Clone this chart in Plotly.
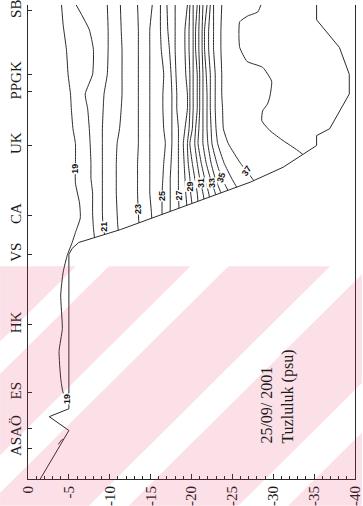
import numpy as np
import plotly.graph_objects as go

# ---- stations along the transect (km from the southern end) ----
station_km = [3.1, 5.1, 8.7, 15.6, 22.7, 26.6, 33.7, 39.2, 40.9, 47.3]
station_label_km = [4.15, 8.7, 15.6, 22.7, 26.6, 33.7, 40.05, 47.3]
station_labels = ["ASAÖ", "ES", "HK", "VS", "CA", "UK", "PPGK", "SB"]

depth_ticks = [0, -5, -10, -15, -20, -25, -30, -35, -40]

# ---- bottom profile (depth in m at each km) ----
bottom_km = [49.0, 47.9, 46.4, 43.6, 40.9, 38.9, 35.4, 34.7, 33.7, 31.5, 30.0,
             25.2, 23.9, 23.3, 22.7, 7.1, 6.3, 4.9, 0.5, 0.0, -1.0]
bottom_depth = [-35.3, -35.3, -35.3, -38.1, -39.3, -39.3, -36.9, -35.3, -35.3, -31.2, -27.2,
                -11.3, -6.2, -5.4, -5.0, -5.0, -2.6, -5.0, -1.8, -1.5, -1.5]

# ---- salinity isolines (psu): depth of each isohaline at the section columns ----
col_km = [47.9, 45.4, 43.4, 40.9, 38.9, 37.4, 35.4, 33.9, 31.9, 30.4, 28.9, 26.9, 25.4, 23.9]
iso20 = [-5.9, -7.5, -8.0, -7.9, -7.0, -7.3, -7.5, -7.6, -7.7, -7.7, -7.9, -7.9, -8.0, -8.2]
iso21 = [-9.7, -9.8, -9.8, -9.7, -9.3, -9.2, -9.1, -9.1, -9.1, -9.1, -9.1, -9.1, -9.2, -9.6]
iso22 = [-11.3, -11.4, -11.5, -11.5, -11.5, -11.4, -11.2, -10.9, -10.8, -10.8, -10.8, -10.9, -11.0, -11.4]
iso23 = [-13.4, -13.5, -13.5, -13.5, -13.5, -13.5, -13.5, -13.5, -13.4, -13.4, -13.4, -13.5, -13.6, -13.8]
iso24 = [-15.2, -14.9, -14.9, -14.9, -14.9, -14.9, -14.9, -14.9, -14.9, -14.9, -14.9, -15.1, -15.2, -15.3]
iso25 = [-16.2, -16.2, -16.3, -16.6, -16.5, -16.5, -16.6, -16.8, -16.6, -16.5, -16.4, -16.4, -16.5, -16.8]
iso26 = [-17.0, -17.1, -17.3, -17.5, -17.6, -17.6, -17.6, -17.6, -17.5, -17.4, -17.4, -17.4, -17.5, -17.6]
iso27 = [-18.0, -18.0, -18.0, -18.1, -18.2, -18.2, -18.4, -18.4, -18.4, -18.4, -18.4, -18.5, -18.6, -18.8]
iso28 = [-19.5, -19.2, -19.2, -19.3, -19.5, -19.5, -19.2, -19.0, -19.1, -19.2, -19.3, -19.5, -19.6, -19.8]
iso29 = [-19.8, -19.7, -19.7, -19.8, -19.8, -19.8, -19.7, -19.5, -19.6, -19.8, -19.9, -20.2, -20.4, -20.7]
iso30 = [-20.2, -20.2, -20.2, -20.2, -20.2, -20.2, -20.1, -19.8, -20.1, -20.4, -20.7, -20.9, -21.2, -21.5]
iso31 = [-20.7, -20.5, -20.5, -20.7, -20.7, -20.7, -20.5, -20.4, -20.7, -21.0, -21.4, -21.8, -22.1, -22.5]
iso32 = [-21.0, -20.9, -20.9, -21.0, -21.0, -21.0, -20.9, -20.8, -21.2, -21.6, -22.1, -22.5, -23.0, -23.5]
iso33 = [-21.4, -21.3, -21.3, -21.4, -21.4, -21.4, -21.4, -21.4, -21.8, -22.3, -22.9, -23.4, -24.0, -24.5]
iso34 = [-21.9, -21.6, -21.6, -21.8, -21.9, -21.9, -21.9, -22.0, -22.4, -22.9, -23.6, -24.2, -24.8, -25.4]
iso35 = [-22.3, -22.1, -22.1, -22.3, -22.3, -22.3, -22.4, -22.5, -23.1, -23.7, -24.6, -25.3, -25.9, -26.5]
iso36 = [-22.7, -22.7, -22.7, -22.9, -22.9, -22.9, -23.0, -23.2, -24.0, -24.9, -25.9, -26.6, -27.4, -28.1]
iso37 = [-23.7, -23.6, -23.6, -23.7, -23.7, -23.8, -23.9, -24.5, -26.0, -27.4, -28.6, -29.6, -30.5, -31.4]

# the 19 psu isohaline runs the whole length of the shallow shelf
iso19_km = [47.9, 45.9, 43.4, 40.9, 38.9, 37.4, 35.4, 33.9, 31.9, 29.9, 27.9, 26.4,
            24.9, 23.9, 22.6, 20.9, 18.6, 15.2, 12.9, 10.2, 8.7, 7.7]
iso19 = [-4.1, -4.3, -4.7, -4.9, -5.2, -5.3, -5.5, -5.8, -5.8, -5.8, -6.3, -6.4,
         -5.8, -5.4, -4.8, -4.3, -4.0, -4.2, -3.8, -4.0, -4.3, -5.1]
iso19b_km = [3.5, 4.0, 3.9]
iso19b = [-3.7, -4.2, -4.6]

# the 38 psu isohaline wrapping the deep basin water
iso38_km = [48.4, 47.2, 46.8, 46.2, 44.9, 43.6, 42.2, 41.6, 40.2, 38.7, 37.9, 37.2,
            36.2, 35.2, 34.2, 33.2, 32.2]
iso38 = [-28.7, -28.1, -26.9, -25.9, -25.8, -25.9, -26.8, -28.7, -29.8, -29.6, -29.3, -28.7,
         -28.6, -29.6, -31.2, -33.0, -34.5]

levels = [20, 21, 22, 23, 24, 25, 26, 27, 28, 29, 30, 31, 32, 33, 34, 35, 36, 37]
iso_table = [iso20, iso21, iso22, iso23, iso24, iso25, iso26, iso27, iso28,
             iso29, iso30, iso31, iso32, iso33, iso34, iso35, iso36, iso37]

# where each labelled isohaline carries its value (km along the section, text angle)
label_spots = [(19, 31.4, -90), (19, 8.1, -90), (21, 25.5, -90), (23, 27.3, -90),
               (25, 28.6, -90), (27, 28.6, -90), (29, 29.6, -90), (31, 29.9, -90),
               (33, 29.9, -90), (35, 30.5, -72), (37, 31.1, -55)]

LINE = "#2b2b2b"
SERIF = "Liberation Serif"
PINK = "rgba(225,45,95,0.15)"

fig = go.Figure()

lines = {19: (iso19, iso19_km)}
for lvl, dep in zip(levels, iso_table):
    lines[lvl] = (dep, col_km)
lines[38] = (iso38, iso38_km)

for lvl, (dep, km) in lines.items():
    fig.add_trace(go.Scatter(x=dep, y=km, mode="lines", hoverinfo="skip", showlegend=False,
                             line=dict(color=LINE, width=1, shape="spline", smoothing=0.5)))
fig.add_trace(go.Scatter(x=iso19b, y=iso19b_km, mode="lines", hoverinfo="skip", showlegend=False,
                         line=dict(color=LINE, width=1, shape="spline", smoothing=0.5)))

# sea floor: blank everything below it
poly_x = bottom_depth + [-45, -45]
poly_y = bottom_km + [-1.0, 49.0]
fig.add_trace(go.Scatter(x=poly_x, y=poly_y, mode="lines", fill="toself", fillcolor="white",
                         hoverinfo="skip", showlegend=False,
                         line=dict(color=LINE, width=1)))

# isohaline value labels sitting on their lines
annotations = []
for lvl, km, ang in label_spots:
    dep, kms = lines[lvl]
    order = np.argsort(kms)
    d = float(np.interp(km, np.array(kms)[order], np.array(dep)[order]))
    annotations.append(dict(x=d, y=km, xref="x", yref="y", text=str(lvl), showarrow=False,
                            textangle=ang, bgcolor="white", borderpad=0,
                            font=dict(family="Liberation Sans", size=9, color="#111",
                                      weight=700)))

annotations.append(dict(x=-30.55, y=8.3, xref="x", yref="y", showarrow=False,
                        text="25/09/ 2001<br>Tuzluluk (psu)", textangle=-90, align="left",
                        font=dict(family=SERIF, size=16, color="#1a1a1a")))

# pale diagonal banding over the lower part of the page
W, H = 363, 506
L_M, R_M, T_M, B_M = 28, 7, 0, 27
PW, PH = W - L_M - R_M, H - T_M - B_M


def clip(poly, a, b, c):
    out = []
    n = len(poly)
    for i in range(n):
        p, q = poly[i], poly[(i + 1) % n]
        fp = a * p[0] + b * p[1] - c
        fq = a * q[0] + b * q[1] - c
        if fp <= 0:
            out.append(p)
        if fp * fq < 0:
            t = fp / (fp - fq)
            out.append((p[0] + t * (q[0] - p[0]), p[1] + t * (q[1] - p[1])))
    return out


def to_paper(px, py):
    return (px - L_M) / PW, (H - B_M - py) / PH


shapes = []
band_top = 264
pink_bands = [(264, 340), (373, 455), (493, 595), (635, 745), (795, 870)]
for s0, s1 in pink_bands:
    rect = [(0, band_top), (W, band_top), (W, H), (0, H)]
    poly = clip(rect, -1, -1, -s0)
    poly = clip(poly, 1, 1, s1)
    if len(poly) < 3:
        continue
    pts = [to_paper(px, py) for px, py in poly]
    path = "M " + " L ".join(f"{x:.4f},{y:.4f}" for x, y in pts) + " Z"
    shapes.append(dict(type="path", path=path, xref="paper", yref="paper",
                       fillcolor=PINK, line=dict(width=0), layer="above"))

fig.update_layout(
    width=W, height=H, autosize=False,
    margin=dict(l=L_M, r=R_M, t=T_M, b=B_M),
    paper_bgcolor="white", plot_bgcolor="white",
    annotations=annotations, shapes=shapes,
    xaxis=dict(range=[0, -40], tickmode="array", tickvals=depth_ticks,
               ticktext=[str(v) for v in depth_ticks], tickangle=-90,
               ticks="inside", ticklen=5, tickcolor=LINE, ticklabeloverflow="allow",
               minor=dict(dtick=1, tick0=0, ticks="inside", ticklen=3, tickcolor=LINE),
               showline=True, linecolor=LINE, linewidth=1, mirror=False,
               showgrid=False, zeroline=False,
               tickfont=dict(family=SERIF, size=15, color="#1a1a1a")),
    yaxis=dict(range=[0, 47.9], tickmode="array", tickvals=station_label_km,
               ticktext=station_labels, tickangle=-90, ticks="", ticklabeloverflow="allow",
               minor=dict(tickmode="array", tickvals=station_km, ticks="inside",
                          ticklen=4, tickcolor=LINE),
               showline=True, linecolor=LINE, linewidth=1, mirror=True,
               showgrid=False, zeroline=False,
               tickfont=dict(family=SERIF, size=15, color="#1a1a1a")),
)

fig.write_html("out.html")
